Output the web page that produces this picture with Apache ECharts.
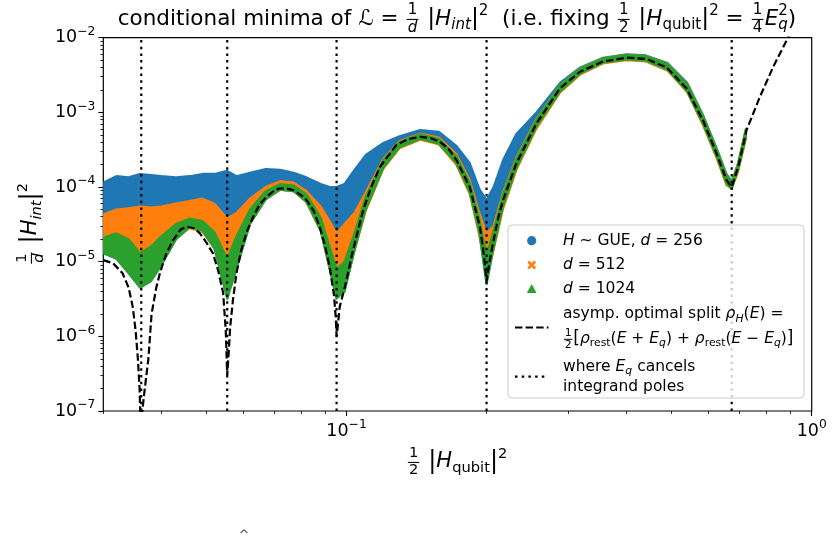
<!DOCTYPE html>
<html>
<head>
<meta charset="utf-8">
<script src="https://cdn.jsdelivr.net/npm/echarts@6/dist/echarts.min.js"></script>
<style>
  html, body { margin: 0; padding: 0; background: #fff; }
  #chart { width: 834px; height: 537px; }
</style>
</head>
<body>
<div id="chart"></div>
<script>
// ---- data ----
const xMajorTicks = [0.1, 1];
const xMinorTicks = [0.03, 0.04, 0.05, 0.06, 0.07, 0.08, 0.09, 0.2, 0.3, 0.4, 0.5, 0.6, 0.7, 0.8, 0.9];
const yMajorTicks = [1e-7, 1e-6, 1e-5, 1e-4, 1e-3, 1e-2];
const yMinorTicks = [2e-7, 3e-7, 4e-7, 5e-7, 6e-7, 7e-7, 8e-7, 9e-7,
  2e-6, 3e-6, 4e-6, 5e-6, 6e-6, 7e-6, 8e-6, 9e-6,
  2e-5, 3e-5, 4e-5, 5e-5, 6e-5, 7e-5, 8e-5, 9e-5,
  2e-4, 3e-4, 4e-4, 5e-4, 6e-4, 7e-4, 8e-4, 9e-4,
  2e-3, 3e-3, 4e-3, 5e-3, 6e-3, 7e-3, 8e-3, 9e-3];

// where E_q cancels integrand poles
const poleX = [0.0362, 0.0554, 0.0952, 0.2, 0.673];
const poleSpan = [1e-7, 1e-2];

// asymptotic optimal split (dashed)
const curveX = [0.0300, 0.0315, 0.0330, 0.0340, 0.0347, 0.0352, 0.0356, 0.0359, 0.0361, 0.0364,
  0.0366, 0.0370, 0.0375, 0.0381, 0.0390, 0.0397, 0.0410, 0.0424, 0.0440, 0.0453,
  0.0470, 0.0484, 0.0500, 0.0516, 0.0530, 0.0543, 0.0550, 0.0554, 0.0558, 0.0562,
  0.0570, 0.0580, 0.0594, 0.0610, 0.0630, 0.0650, 0.0673, 0.0700, 0.0719, 0.0745,
  0.0768, 0.0800, 0.0820, 0.0850, 0.0876, 0.0900, 0.0920, 0.0940, 0.0948, 0.0952,
  0.0958, 0.0967, 0.0992, 0.1033, 0.1086, 0.1130, 0.1180, 0.1280, 0.1360, 0.1438,
  0.1510, 0.1587, 0.1660, 0.1723, 0.1840, 0.1935, 0.1975, 0.2000, 0.2030, 0.2066,
  0.2120, 0.2172, 0.2320, 0.2560, 0.2876, 0.3176, 0.3560, 0.4000, 0.4416, 0.4877,
  0.5380, 0.5850, 0.6246, 0.6560, 0.6730, 0.6950, 0.7245, 0.7740, 0.8270, 0.8840, 0.9000];
const curveY = [1.05e-5, 9.5e-6, 7.0e-6, 4.5e-6, 2.5e-6, 1.2e-6, 5e-7, 2e-7, 6e-8, 6e-8,
  1.4e-7, 2.5e-7, 5e-7, 2.0e-6, 4.5e-6, 7e-6, 1.3e-5, 1.95e-5, 2.7e-5, 2.95e-5,
  2.8e-5, 2.4e-5, 1.8e-5, 1.3e-5, 7.5e-6, 3.8e-6, 1.2e-6, 3e-7, 6e-7, 1.3e-6,
  3.1e-6, 7e-6, 1.44e-5, 2.5e-5, 4e-5, 5.8e-5, 7.4e-5, 9.0e-5, 9.6e-5, 9.5e-5,
  9.1e-5, 7.7e-5, 6.7e-5, 4.8e-5, 2.9e-5, 1.6e-5, 8.5e-6, 3.5e-6, 1.8e-6, 1.0e-6,
  1.4e-6, 2.5e-6, 4.6e-6, 1.44e-5, 4.9e-5, 1.0e-4, 1.86e-4, 3.66e-4, 4.4e-4, 4.7e-4,
  4.55e-4, 4.05e-4, 3.2e-4, 2.3e-4, 1.0e-4, 2.95e-5, 1.2e-5, 5.5e-6, 1.0e-5, 1.8e-5,
  3.9e-5, 6.8e-5, 2.1e-4, 7.1e-4, 2.1e-3, 3.5e-3, 4.8e-3, 5.4e-3, 5.2e-3, 4.0e-3,
  2.1e-3, 7.6e-4, 2.8e-4, 1.24e-4, 1.0e-4, 1.86e-4, 5.8e-4, 1.62e-3, 4.1e-3, 9.3e-3, 1.15e-2];

// sampled minima: upper / lower edge of each point cloud
const cloudX = [0.030, 0.032, 0.034, 0.036, 0.038, 0.040, 0.043, 0.046, 0.049, 0.052,
  0.0554, 0.058, 0.062, 0.067, 0.072, 0.077, 0.082, 0.088, 0.092, 0.0952,
  0.099, 0.104, 0.110, 0.120, 0.130, 0.144, 0.158, 0.172, 0.184, 0.193,
  0.200, 0.207, 0.217, 0.232, 0.256, 0.288, 0.318, 0.356, 0.400, 0.440,
  0.490, 0.540, 0.585, 0.625, 0.656, 0.673, 0.695, 0.722];
const gue256Hi = [1.15e-4, 1.4e-4, 1.35e-4, 1.5e-4, 1.45e-4, 1.4e-4, 1.35e-4, 1.4e-4, 1.5e-4, 1.5e-4,
  1.65e-4, 1.4e-4, 1.55e-4, 1.75e-4, 1.7e-4, 1.55e-4, 1.35e-4, 1.1e-4, 1.0e-4, 1.0e-4,
  1.1e-4, 1.7e-4, 2.7e-4, 3.9e-4, 4.8e-4, 5.8e-4, 5.5e-4, 3.6e-4, 2.1e-4, 9.5e-5,
  6.7e-5, 1.0e-4, 2.3e-4, 5.2e-4, 1.0e-3, 2.5e-3, 4.0e-3, 5.4e-3, 6.0e-3, 5.8e-3,
  4.6e-3, 2.5e-3, 9.0e-4, 3.3e-4, 1.5e-4, 1.2e-4, 2.1e-4, 6.0e-4];
const gue256Lo = [1.3e-5, 1.1e-5, 7e-6, 4.5e-6, 5.5e-6, 9e-6, 2.0e-5, 2.9e-5, 2.6e-5, 1.5e-5,
  3.2e-6, 8e-6, 3.2e-5, 6.8e-5, 9.2e-5, 8.8e-5, 6.3e-5, 2.6e-5, 8e-6, 3.2e-6,
  4e-6, 1.4e-5, 5e-5, 1.8e-4, 3.4e-4, 4.4e-4, 3.8e-4, 2.1e-4, 8.5e-5, 2.4e-5,
  5e-6, 1.5e-5, 5.5e-5, 1.8e-4, 6.4e-4, 1.9e-3, 3.3e-3, 4.6e-3, 5.1e-3, 4.9e-3,
  3.7e-3, 1.9e-3, 6.8e-4, 2.5e-4, 1.1e-4, 9.5e-5, 1.7e-4, 4.6e-4];
const d512Hi = [4.3e-5, 5.0e-5, 5.2e-5, 5.5e-5, 5.3e-5, 5.5e-5, 6.0e-5, 6.5e-5, 7.0e-5, 6.0e-5,
  3.8e-5, 4.5e-5, 7.0e-5, 1.0e-4, 1.2e-4, 1.15e-4, 8.8e-5, 5.5e-5, 3.5e-5, 2.4e-5,
  3.2e-5, 4.5e-5, 8.5e-5, 2.4e-4, 4.1e-4, 5.2e-4, 4.6e-4, 2.8e-4, 1.25e-4, 4.5e-5,
  2.4e-5, 3.0e-5, 8.5e-5, 2.5e-4, 8.2e-4, 2.35e-3, 3.9e-3, 5.3e-3, 5.9e-3, 5.7e-3,
  4.5e-3, 2.4e-3, 8.8e-4, 3.2e-4, 1.45e-4, 1.15e-4, 2.1e-4, 6.0e-4];
const d512Lo = [1.5e-5, 1.3e-5, 9e-6, 6e-6, 7e-6, 1.1e-5, 2.1e-5, 2.8e-5, 2.5e-5, 1.5e-5,
  6e-6, 9e-6, 3.2e-5, 6.8e-5, 9.2e-5, 8.8e-5, 6.3e-5, 2.6e-5, 8e-6, 5e-6,
  5e-6, 1.4e-5, 4.8e-5, 1.75e-4, 3.3e-4, 4.3e-4, 3.7e-4, 2.0e-4, 8.0e-5, 2.2e-5,
  7e-6, 1.4e-5, 5.0e-5, 1.7e-4, 6.0e-4, 1.85e-3, 3.2e-3, 4.5e-3, 5.0e-3, 4.8e-3,
  3.6e-3, 1.85e-3, 6.5e-4, 2.4e-4, 1.05e-4, 9.5e-5, 1.6e-4, 4.4e-4];
const d1024Hi = [2.1e-5, 2.4e-5, 2.0e-5, 1.3e-5, 1.6e-5, 2.2e-5, 3.2e-5, 3.8e-5, 3.5e-5, 2.5e-5,
  1.1e-5, 2.2e-5, 5.0e-5, 8.8e-5, 1.1e-4, 1.05e-4, 8.0e-5, 3.9e-5, 1.6e-5, 8e-6,
  1.0e-5, 2.4e-5, 7.5e-5, 2.3e-4, 4.0e-4, 5.1e-4, 4.4e-4, 2.6e-4, 1.15e-4, 3.8e-5,
  1.2e-5, 2.6e-5, 8e-5, 2.4e-4, 8.0e-4, 2.35e-3, 3.9e-3, 5.3e-3, 5.9e-3, 5.7e-3,
  4.5e-3, 2.4e-3, 8.8e-4, 3.2e-4, 1.45e-4, 1.15e-4, 2.1e-4, 6.0e-4];
const d1024Lo = [1.3e-5, 1.1e-5, 7e-6, 4.5e-6, 5.5e-6, 9e-6, 2.0e-5, 2.9e-5, 2.6e-5, 1.5e-5,
  3.2e-6, 8e-6, 3.2e-5, 6.8e-5, 9.2e-5, 8.8e-5, 6.3e-5, 2.6e-5, 8e-6, 3.2e-6,
  4e-6, 1.4e-5, 5e-5, 1.8e-4, 3.4e-4, 4.4e-4, 3.8e-4, 2.1e-4, 8.5e-5, 2.4e-5,
  5e-6, 1.5e-5, 5.5e-5, 1.8e-4, 6.4e-4, 1.9e-3, 3.3e-3, 4.6e-3, 5.1e-3, 4.9e-3,
  3.7e-3, 1.9e-3, 6.8e-4, 2.5e-4, 1.1e-4, 9.5e-5, 1.7e-4, 4.6e-4];

const BLUE = '#1f77b4', ORANGE = '#ff7f0e', GREEN = '#2ca02c';
const FONT = 'DejaVu Sans';

// ---- small mathtext-like layout with graphic texts ----
const mctx = document.createElement('canvas').getContext('2d');
function measure(s, size, it) {
  mctx.font = (it ? 'italic ' : '') + size + 'px "' + FONT + '"';
  return mctx.measureText(s).width;
}
function txt(s, x, y, size, it, align) {
  return {
    type: 'text', x: x, y: y, z: 100,
    style: {
      text: s, fontSize: size, fontFamily: FONT, fontStyle: it ? 'italic' : 'normal',
      fill: '#000', align: align, verticalAlign: 'middle',
      textAlign: align, textVerticalAlign: 'middle'
    }
  };
}
// token: {s, it, k: scale, dy: shift in em (down +), stay: no advance} or {num, den}
function mathRow(tokens, size) {
  const els = [];
  let x = 0;
  tokens.forEach(t => {
    if (t.num !== undefined) {
      const fs = size * 0.7;
      const w = Math.max(measure(t.num, fs, t.numIt), measure(t.den, fs, t.denIt)) + size * 0.1;
      const x0 = x + size * 0.06;
      els.push(txt(t.num, x0 + w / 2, -size * 0.40, fs, t.numIt, 'center'));
      els.push(txt(t.den, x0 + w / 2, size * 0.40, fs, t.denIt, 'center'));
      els.push({ type: 'line', x: x0, y: 0, z: 100, shape: { x1: 0, y1: size * 0.02, x2: w, y2: size * 0.02 },
        style: { stroke: '#000', lineWidth: Math.max(1, size * 0.05) } });
      x = x0 + w + size * 0.06;
    } else {
      const fs = size * (t.k || 1);
      els.push(txt(t.s, x, (t.dy || 0) * size, fs, t.it, 'left'));
      if (!t.stay) x += measure(t.s, fs, t.it);
    }
  });
  return { els: els, width: x };
}
const SUB = 0.30, SUP = -0.36, SK = 0.7;

function mathGroup(tokens, size, cx, cy, rotation, anchor) {
  const row = mathRow(tokens, size);
  const shift = anchor === 'left' ? 0 : -row.width / 2;
  row.els.forEach(e => { e.x += shift; });
  return { type: 'group', x: cx, y: cy, rotation: rotation || 0, z: 100, children: row.els };
}

const titleTokens = [
  { s: 'conditional minima of ' }, { s: 'ℒ', it: true }, { s: ' = ' },
  { num: '1', den: 'd', denIt: true }, { s: ' |', k: 1.1 }, { s: 'H', it: true },
  { s: 'int', it: true, k: SK, dy: SUB }, { s: '|', k: 1.1 }, { s: '2', k: SK, dy: SUP },
  { s: '  (i.e. fixing ' }, { num: '1', den: '2' }, { s: ' |', k: 1.1 }, { s: 'H', it: true },
  { s: 'qubit', k: SK, dy: SUB }, { s: '|', k: 1.1 }, { s: '2', k: SK, dy: SUP }, { s: ' = ' },
  { num: '1', den: '4' }, { s: 'E', it: true }, { s: '2', k: SK, dy: SUP, stay: true },
  { s: 'q', it: true, k: SK, dy: SUB }, { s: ')' }
];
const xLabelTokens = [
  { num: '1', den: '2' }, { s: ' |', k: 1.15 }, { s: 'H', it: true },
  { s: 'qubit', k: SK, dy: SUB }, { s: '|', k: 1.15 }, { s: '2', k: SK, dy: SUP }
];
const yLabelTokens = [
  { num: '1', den: 'd', denIt: true }, { s: ' |', k: 1.15 }, { s: 'H', it: true },
  { s: 'int', it: true, k: SK, dy: SUB }, { s: '|', k: 1.15 }, { s: '2', k: SK, dy: SUP }
];

// legend
const LS = 15.5;
const legLines = [
  { y: 240.7, tokens: [{ s: 'H', it: true }, { s: ' ~ GUE, ' }, { s: 'd', it: true }, { s: ' = 256' }] },
  { y: 265, tokens: [{ s: 'd', it: true }, { s: ' = 512' }] },
  { y: 289, tokens: [{ s: 'd', it: true }, { s: ' = 1024' }] },
  { y: 314.3, tokens: [{ s: 'asymp. optimal split ' }, { s: 'ρ', it: true }, { s: 'H', it: true, k: SK, dy: SUB },
    { s: '(' }, { s: 'E', it: true }, { s: ') =' }] },
  { y: 339, tokens: [{ num: '1', den: '2' }, { s: '[', k: 1.1 }, { s: 'ρ', it: true }, { s: 'rest', k: SK, dy: SUB },
    { s: '(' }, { s: 'E', it: true }, { s: ' + ' }, { s: 'E', it: true }, { s: 'q', it: true, k: SK, dy: SUB },
    { s: ') + ' }, { s: 'ρ', it: true }, { s: 'rest', k: SK, dy: SUB }, { s: '(' }, { s: 'E', it: true },
    { s: ' − ' }, { s: 'E', it: true }, { s: 'q', it: true, k: SK, dy: SUB }, { s: ')' }, { s: ']', k: 1.1 }] },
  { y: 366.7, tokens: [{ s: 'where ' }, { s: 'E', it: true }, { s: 'q', it: true, k: SK, dy: SUB }, { s: ' cancels' }] },
  { y: 386.7, tokens: [{ s: 'integrand poles' }] }
];

const graphics = [
  mathGroup(titleTokens, 21.5, 457, 19, 0),
  mathGroup(xLabelTokens, 21, 457, 462, 0),
  mathGroup(yLabelTokens, 21, 31, 224, Math.PI / 2),
  { type: 'rect', z: 90, shape: { x: 508, y: 225, width: 296, height: 173, r: 4 },
    style: { fill: 'rgba(255,255,255,0.8)', stroke: '#cccccc', lineWidth: 1 } },
  { type: 'circle', z: 100, shape: { cx: 531.7, cy: 240.7, r: 4.6 }, style: { fill: BLUE } },
  { type: 'line', z: 100, shape: { x1: 528.2, y1: 261.5, x2: 535.2, y2: 268.5 }, style: { stroke: ORANGE, lineWidth: 2.6 } },
  { type: 'line', z: 100, shape: { x1: 528.2, y1: 268.5, x2: 535.2, y2: 261.5 }, style: { stroke: ORANGE, lineWidth: 2.6 } },
  { type: 'polygon', z: 100, shape: { points: [[531.7, 284], [536.5, 293], [526.9, 293]] }, style: { fill: GREEN } },
  { type: 'line', z: 100, shape: { x1: 515, y1: 327.5, x2: 548.5, y2: 327.5 },
    style: { stroke: '#000', lineWidth: 2.2, lineDash: [7.4, 3.2] } },
  { type: 'line', z: 100, shape: { x1: 515, y1: 376.7, x2: 548.5, y2: 376.7 },
    style: { stroke: '#000', lineWidth: 2.2, lineDash: [2.5, 4.2] } },
  { type: 'text', z: 100, x: 244, y: 529,
    style: { text: '^', fontSize: 13, fontFamily: FONT, fill: '#444', align: 'center', verticalAlign: 'top',
      textAlign: 'center', textVerticalAlign: 'top' } }
];
legLines.forEach(l => graphics.push(mathGroup(l.tokens, LS, 563, l.y, 0, 'left')));

// ---- chart ----
function band(name, color, hi, lo, z) {
  return {
    type: 'custom', name: name, z: z, silent: true,
    coordinateSystem: 'cartesian2d',
    data: [[cloudX[0], hi[0]]],
    renderItem: function (params, api) {
      const pts = [];
      for (let i = 0; i < cloudX.length; i++) pts.push(api.coord([cloudX[i], hi[i]]));
      for (let i = cloudX.length - 1; i >= 0; i--) pts.push(api.coord([cloudX[i], lo[i]]));
      const cs = params.coordSys;
      return {
        type: 'polygon',
        shape: { points: pts },
        style: { fill: color, stroke: color, lineWidth: 2, lineJoin: 'round' },
        clipPath: { type: 'rect', shape: { x: cs.x, y: cs.y, width: cs.width, height: cs.height } }
      };
    }
  };
}

function powLabel(v) {
  const e = Math.round(Math.log10(v));
  return '{b|10}{s|' + (e < 0 ? '−' + (-e) : String(e)) + '}';
}
const tickRich = {
  b: { fontSize: 17.5, fontFamily: FONT, color: '#000', lineHeight: 24 },
  s: { fontSize: 12.3, fontFamily: FONT, color: '#000', lineHeight: 13, verticalAlign: 'top' }
};

const poleSeries = poleX.map(x => ({
  type: 'line', z: 7, silent: true, symbol: 'none', clip: true,
  data: poleSpan.map(y => [x, y]),
  lineStyle: { color: '#000', width: 2.2, type: [2.5, 4.2] }
}));

const chart = echarts.init(document.getElementById('chart'), null, { renderer: 'canvas' });
chart.setOption({
  animation: false,
  backgroundColor: '#fff',
  grid: { left: 103.3, right: 22.3, top: 37.7, bottom: 126, show: true, borderColor: '#000', borderWidth: 1.2 },
  xAxis: [
    { type: 'log', logBase: 10, min: 0.03, max: 1, position: 'bottom',
      axisLine: { show: false }, splitLine: { show: false },
      axisTick: { customValues: xMajorTicks, length: 5, lineStyle: { color: '#000', width: 1.1 } },
      axisLabel: { customValues: xMajorTicks, formatter: powLabel, rich: tickRich, margin: 8 } },
    { type: 'log', logBase: 10, min: 0.03, max: 1, position: 'bottom',
      axisLine: { show: false }, splitLine: { show: false }, axisLabel: { show: false },
      axisTick: { customValues: xMinorTicks, length: 3, lineStyle: { color: '#000', width: 0.8 } } }
  ],
  yAxis: [
    { type: 'log', logBase: 10, min: 1e-7, max: 1e-2, position: 'left',
      axisLine: { show: false }, splitLine: { show: false },
      axisTick: { customValues: yMajorTicks, length: 5, lineStyle: { color: '#000', width: 1.1 } },
      axisLabel: { customValues: yMajorTicks, formatter: powLabel, rich: tickRich, margin: 8 } },
    { type: 'log', logBase: 10, min: 1e-7, max: 1e-2, position: 'left',
      axisLine: { show: false }, splitLine: { show: false }, axisLabel: { show: false },
      axisTick: { customValues: yMinorTicks, length: 3, lineStyle: { color: '#000', width: 0.8 } } }
  ],
  series: [
    band('H ~ GUE, d = 256', BLUE, gue256Hi, gue256Lo, 2),
    band('d = 512', ORANGE, d512Hi, d512Lo, 3),
    band('d = 1024', GREEN, d1024Hi, d1024Lo, 4),
    {
      type: 'line', name: 'asymp. optimal split', z: 6, silent: true,
      data: curveX.map((x, i) => [x, curveY[i]]),
      symbol: 'none', clip: true,
      lineStyle: { color: '#000', width: 2.2, type: [7.4, 3.2] }
    }
  ].concat(poleSeries),
  graphic: graphics
});
</script>
</body>
</html>
